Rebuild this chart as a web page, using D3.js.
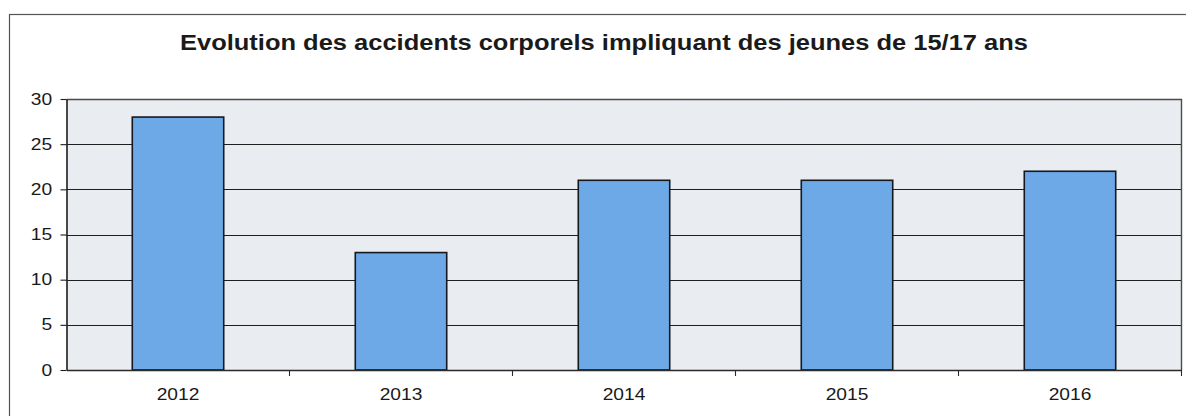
<!DOCTYPE html>
<html>
<head>
<meta charset="utf-8">
<script src="https://cdn.jsdelivr.net/npm/d3@7"></script>
<style>
  html, body { margin: 0; padding: 0; background: #ffffff; }
  svg { display: block; font-family: "Liberation Sans", Arial, sans-serif; }
</style>
</head>
<body>
<svg id="chart" width="1186" height="416"></svg>
<script>
// Accidents corporels impliquant des jeunes de 15/17 ans, par année
const years = ["2012", "2013", "2014", "2015", "2016"];
const accidents = [28, 13, 21, 21, 22];
const yTicks = [0, 5, 10, 15, 20, 25, 30];
const chartTitle = "Evolution des accidents corporels impliquant des jeunes de 15/17 ans";

const svg = d3.select("#chart");
const W = 1186, H = 416;
const plot = { left: 66.5, right: 1181.5, top: 99, bottom: 370 };
const stretch = "scale(1.2,1)"; // police légèrement élargie

// Cadre extérieur du graphique
svg.append("rect")
  .attr("x", 9.5).attr("y", 14.5)
  .attr("width", W + 20).attr("height", H + 20)
  .attr("fill", "#ffffff")
  .attr("stroke", "#555555").attr("stroke-width", 1.2);

// Titre
svg.append("text")
  .attr("x", 604).attr("y", 50)
  .attr("text-anchor", "middle")
  .attr("font-size", 22).attr("font-weight", "bold")
  .attr("fill", "#1a1a1a")
  .attr("textLength", 848).attr("lengthAdjust", "spacingAndGlyphs")
  .text(chartTitle);

const x = d3.scaleBand().domain(years).range([plot.left, plot.right]).paddingInner(0).paddingOuter(0);
const y = d3.scaleLinear().domain([0, 30]).range([plot.bottom, plot.top]);

// Fond de la zone de tracé (léger grain)
const defs = svg.append("defs");
const f = defs.append("filter").attr("id", "grain").attr("x", 0).attr("y", 0).attr("width", 1).attr("height", 1);
f.append("feTurbulence").attr("type", "fractalNoise").attr("baseFrequency", 0.9).attr("numOctaves", 2).attr("seed", 3).attr("result", "noise");
f.append("feColorMatrix").attr("in", "noise").attr("type", "matrix")
  .attr("values", "0 0 0 0 0.6  0 0 0 0 0.62  0 0 0 0 0.66  0 0 0 0.06 0").attr("result", "tint");
f.append("feComposite").attr("in", "tint").attr("in2", "SourceGraphic").attr("operator", "atop");

svg.append("rect")
  .attr("x", plot.left).attr("y", plot.top)
  .attr("width", plot.right - plot.left).attr("height", plot.bottom - plot.top)
  .attr("fill", "#eaedf1")
  .attr("filter", "url(#grain)");

// Quadrillage horizontal
svg.append("g")
  .selectAll("line")
  .data(yTicks.filter(v => v > 0 && v < 30))
  .join("line")
  .attr("x1", plot.left).attr("x2", plot.right)
  .attr("y1", d => Math.round(y(d)) + 0.5).attr("y2", d => Math.round(y(d)) + 0.5)
  .attr("stroke", "#1e1e1e").attr("stroke-width", 1.1);

// Bordure de la zone de tracé (haut et droite)
svg.append("path")
  .attr("d", `M${plot.left},${plot.top + 0.5}H${plot.right}V${plot.bottom}`)
  .attr("fill", "none").attr("stroke", "#4a4a4a").attr("stroke-width", 1.4);

// Barres
const barW = x.bandwidth() * 0.41;
svg.append("g")
  .selectAll("rect")
  .data(years.map((k, i) => ({ k, v: accidents[i] })))
  .join("rect")
  .attr("x", d => x(d.k) + (x.bandwidth() - barW) / 2)
  .attr("y", d => y(d.v))
  .attr("width", barW)
  .attr("height", d => y(0) - y(d.v))
  .attr("fill", "#6ca9e6")
  .attr("stroke", "#15181f").attr("stroke-width", 1.6);

// Axe vertical
const yAxis = d3.axisLeft(y).tickValues(yTicks).tickSize(6).tickPadding(6).tickSizeOuter(0);
const gy = svg.append("g").attr("transform", `translate(${plot.left},0)`).call(yAxis);
gy.select(".domain").attr("stroke", "#1e1e1e").attr("stroke-width", 1.6);
gy.selectAll(".tick line").attr("stroke", "#1e1e1e").attr("stroke-width", 1.1);
gy.selectAll(".tick text")
  .attr("font-size", 16).attr("fill", "#1a1a1a")
  .attr("font-family", "'Liberation Sans', Arial, sans-serif")
  .attr("transform", stretch);

// Axe horizontal : graduations entre les catégories
const xAxis = d3.axisBottom(x).tickSize(0).tickPadding(19);
const gx = svg.append("g").attr("transform", `translate(0,${plot.bottom})`).call(xAxis);
gx.select(".domain").attr("stroke", "#2a2a2a").attr("stroke-width", 1.6);
gx.selectAll(".tick text")
  .attr("font-size", 16).attr("fill", "#1a1a1a")
  .attr("font-family", "'Liberation Sans', Arial, sans-serif")
  .attr("transform", stretch);
svg.append("g")
  .selectAll("line")
  .data(years.slice(1).concat(["__end"]))
  .join("line")
  .attr("x1", d => d === "__end" ? plot.right : x(d))
  .attr("x2", d => d === "__end" ? plot.right : x(d))
  .attr("y1", plot.bottom).attr("y2", plot.bottom + 6)
  .attr("stroke", "#2a2a2a").attr("stroke-width", 1.1);
</script>
</body>
</html>
